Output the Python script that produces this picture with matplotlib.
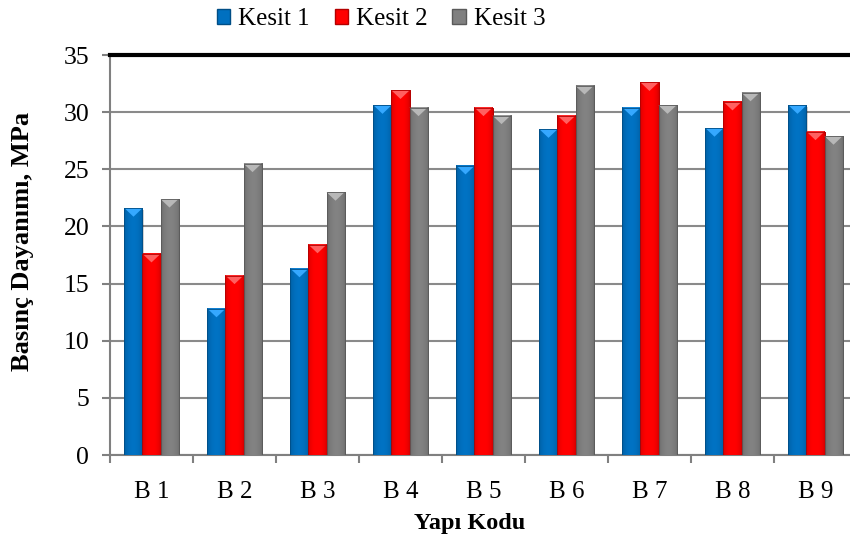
import matplotlib
matplotlib.use("Agg")
import matplotlib.pyplot as plt
import numpy as np
from matplotlib.patches import Polygon, Rectangle, Patch
from matplotlib.colors import to_rgb

plt.rcParams["font.family"] = ["Liberation Serif", "DejaVu Serif"]

categories = ["B 1", "B 2", "B 3", "B 4", "B 5", "B 6", "B 7", "B 8", "B 9"]
kesit1 = [21.6, 12.8, 16.3, 30.6, 25.3, 28.5, 30.4, 28.6, 30.6]
kesit2 = [17.6, 15.7, 18.4, 31.9, 30.4, 29.7, 32.6, 30.9, 28.3]
kesit3 = [22.4, 25.5, 23.0, 30.4, 29.7, 32.3, 30.6, 31.7, 27.9]
series_names = ["Kesit 1", "Kesit 2", "Kesit 3"]
colors = ["#0070C0", "#FF0000", "#808080"]
bevel_colors = ["#35A8FF", "#FF6060", "#B8B8B8"]


def shade(c, f):
    r, g, b = to_rgb(c)
    return (r * f, g * f, b * f)


fig = plt.figure(figsize=(8.5, 5.49), dpi=100)
ax = fig.add_axes([110 / 850, 1 - 455 / 549, 747 / 850, 400 / 549])

x = np.arange(len(categories))
w = 0.217
bevel_h = 0.75
for i, (vals, c, bc) in enumerate(zip([kesit1, kesit2, kesit3], colors, bevel_colors)):
    bars = ax.bar(x + (i - 1) * w, vals, width=w, color=c, edgecolor=shade(c, 0.75),
                  linewidth=0.6, zorder=3)
    for p in bars:
        x0, bw, h = p.get_x(), p.get_width(), p.get_height()
        # soft drop shadow
        ax.add_patch(Rectangle((x0 + 0.02, -0.15), bw, h, color="black", alpha=0.18,
                               lw=0, zorder=2.5))
        # horizontal shading across the bar
        r, g, b = to_rgb(c)
        t = np.linspace(0, 1, 32)
        f = 0.82 + 0.2 * np.sin(np.pi * t) ** 0.6
        grad = np.clip(np.stack([np.outer(np.ones(2), r * f),
                                 np.outer(np.ones(2), g * f),
                                 np.outer(np.ones(2), b * f)], axis=-1), 0, 1)
        ax.imshow(grad, extent=[x0, x0 + bw, 0, h], aspect="auto", zorder=3.1,
                  interpolation="bilinear")
        # top bevel triangle
        ax.add_patch(Polygon([[x0, h], [x0 + bw, h], [x0 + bw / 2, h - bevel_h]],
                             closed=True, color=bc, lw=0, zorder=3.2))
        ax.add_patch(Rectangle((x0, 0), bw, h, fill=False, edgecolor=shade(c, 0.7),
                               lw=0.6, zorder=3.3))

ax.set_xlim(-0.5, len(categories) - 0.5)
ax.set_ylim(0, 35)
ax.set_yticks(np.arange(0, 36, 5))
ax.set_xticks(x)
ax.set_xticklabels(categories)
ax.set_xticks(np.arange(-0.5, len(categories), 1), minor=True)
ax.yaxis.grid(True, color="#8A8A8A", linewidth=1.5, zorder=0)
ax.set_axisbelow(True)

ax.tick_params(axis="x", which="major", length=0, pad=19, labelsize=18)
ax.tick_params(axis="x", which="minor", length=6, width=1.5, color="#808080")
ax.tick_params(axis="y", length=6, width=1.5, color="#808080", pad=9, labelsize=18.5)

for s in ["left", "bottom"]:
    ax.spines[s].set_color("#808080")
    ax.spines[s].set_linewidth(1.5)
ax.spines["top"].set_color("black")
ax.spines["top"].set_linewidth(3)
ax.spines["right"].set_visible(False)

fig.text(23 / 850, 1 - 241 / 549, "Basınç Dayanımı, MPa", rotation=90, ha="center",
         va="center", fontsize=19, fontweight="bold")
fig.text(470 / 850, 1 - 524 / 549, "Yapı Kodu", ha="center", va="center",
         fontsize=17.5, fontweight="bold")

handles = [Patch(facecolor=c, edgecolor=shade(c, 0.7), label=n)
           for c, n in zip(colors, series_names)]
fig.legend(handles=handles, loc="center", bbox_to_anchor=(381 / 850, 1 - 19 / 549),
           ncol=3, frameon=False, fontsize=18, handlelength=0.55, handleheight=0.55,
           handletextpad=0.3, columnspacing=1.0, borderaxespad=0)

fig.savefig("out.png", dpi=100)
